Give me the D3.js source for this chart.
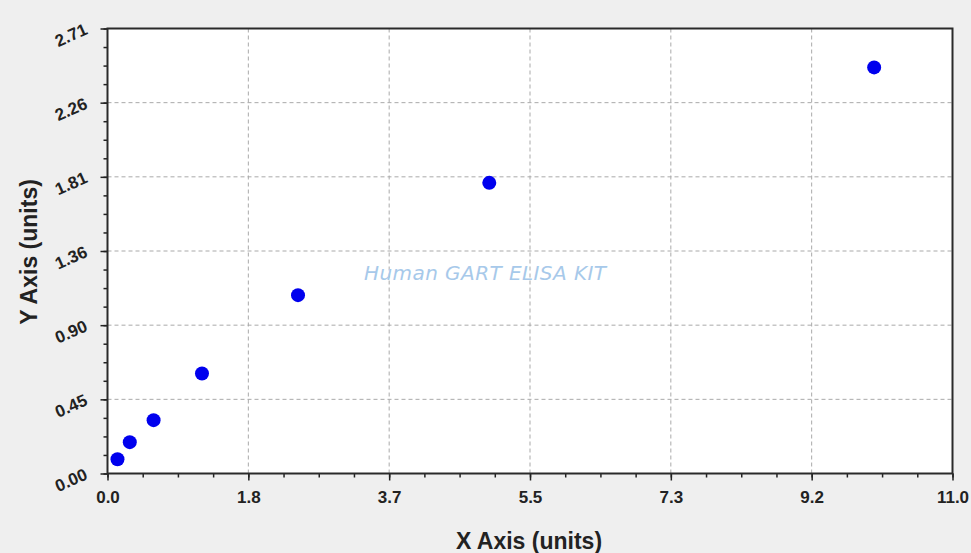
<!DOCTYPE html>
<html>
<head>
<meta charset="utf-8">
<script src="https://cdn.jsdelivr.net/npm/d3@7"></script>
<style>
  body { margin: 0; background: #efefef; }
  svg { display: block; font-family: "Liberation Sans", Arial, sans-serif; }
</style>
</head>
<body>
<svg id="chart" width="971" height="553"></svg>
<script>
// standard curve points
var xValues = [0.13, 0.29, 0.60, 1.23, 2.48, 4.97, 9.98];
var yValues = [0.087, 0.191, 0.325, 0.609, 1.086, 1.770, 2.473];

var xTicks = [0, 11 / 6, 11 / 3, 5.5, 22 / 3, 55 / 6, 11];
var xTickLabels = ['0.0', '1.8', '3.7', '5.5', '7.3', '9.2', '11.0'];
var yTicks = [0, 2.71 / 6, 2.71 / 3, 1.355, 2.71 * 2 / 3, 2.71 * 5 / 6, 2.71];
var yTickLabels = ['0.00', '0.45', '0.90', '1.36', '1.81', '2.26', '2.71'];

var svg = d3.select('#chart');
var plotLeft = 107.5, plotRight = 952.5, plotTop = 28.5, plotBottom = 473.5;

var x = d3.scaleLinear().domain([0, 11]).range([plotLeft, plotRight]);
var y = d3.scaleLinear().domain([0, 2.71]).range([plotBottom, plotTop]);

// plot area
svg.append('rect')
  .attr('x', plotLeft).attr('y', plotTop)
  .attr('width', plotRight - plotLeft).attr('height', plotBottom - plotTop)
  .attr('fill', '#fff');

// grid lines at the major ticks
var grid = svg.append('g').attr('stroke', '#a9a9a9').attr('stroke-dasharray', '4,3');
grid.selectAll('line.gx').data(xTicks.slice(1, -1)).enter().append('line')
  .attr('x1', function(d) { return x(d); }).attr('x2', function(d) { return x(d); })
  .attr('y1', plotTop).attr('y2', plotBottom);
grid.selectAll('line.gy').data(yTicks.slice(1, -1)).enter().append('line')
  .attr('y1', function(d) { return y(d); }).attr('y2', function(d) { return y(d); })
  .attr('x1', plotLeft).attr('x2', plotRight);

// watermark
svg.append('text')
  .attr('x', 485).attr('y', 280)
  .attr('text-anchor', 'middle')
  .attr('font-family', 'DejaVu Sans')
  .attr('font-style', 'italic')
  .attr('font-size', 20)
  .attr('textLength', 242)
  .attr('fill', '#a7c9ea')
  .text('Human GART ELISA KIT');

// minor ticks: 4 subdivisions between majors
var xMinor = d3.range(25).map(function(i) { return 11 * i / 24; });
var yMinor = d3.range(25).map(function(i) { return 2.71 * i / 24; });

var xAxis = d3.axisBottom(x).tickValues(xTicks)
  .tickFormat(function(d, i) { return xTickLabels[i]; })
  .tickSize(7).tickPadding(10);
var xAxisMinor = d3.axisBottom(x).tickValues(xMinor).tickFormat('').tickSize(4);
var yAxis = d3.axisLeft(y).tickValues(yTicks)
  .tickFormat(function(d, i) { return yTickLabels[i]; })
  .tickSize(7).tickPadding(14);
var yAxisMinor = d3.axisLeft(y).tickValues(yMinor).tickFormat('').tickSize(4);

var gx = svg.append('g').attr('transform', 'translate(0,' + plotBottom + ')').call(xAxisMinor);
var gx2 = svg.append('g').attr('transform', 'translate(0,' + plotBottom + ')').call(xAxis);
var gy = svg.append('g').attr('transform', 'translate(' + plotLeft + ',0)').call(yAxisMinor);
var gy2 = svg.append('g').attr('transform', 'translate(' + plotLeft + ',0)').call(yAxis);

[gx, gx2, gy, gy2].forEach(function(g) {
  g.select('.domain').remove();
  g.selectAll('.tick line').attr('stroke', '#222').attr('stroke-width', 1.5);
});

gx2.selectAll('.tick text')
  .style('font-size', '17px').style('font-weight', 'bold').attr('fill', '#222');

gy2.selectAll('.tick text')
  .style('font-size', '17px').style('font-weight', 'bold').attr('fill', '#222')
  .attr('dy', '0.3em')
  .attr('transform', 'rotate(-24,-21,0)');

// frame
svg.append('rect')
  .attr('x', plotLeft).attr('y', plotTop)
  .attr('width', plotRight - plotLeft).attr('height', plotBottom - plotTop)
  .attr('fill', 'none').attr('stroke', '#2a2a2a').attr('stroke-width', 2);

// points
svg.append('g').selectAll('circle')
  .data(xValues.map(function(v, i) { return [v, yValues[i]]; }))
  .enter().append('circle')
  .attr('cx', function(d) { return x(d[0]); })
  .attr('cy', function(d) { return y(d[1]); })
  .attr('r', 7)
  .attr('fill', '#0000ee');

// axis titles
svg.append('text')
  .attr('x', 529).attr('y', 549)
  .attr('text-anchor', 'middle')
  .attr('font-size', 23).attr('font-weight', 'bold').attr('fill', '#222')
  .text('X Axis (units)');

svg.append('text')
  .attr('transform', 'translate(37,252) rotate(-90)')
  .attr('text-anchor', 'middle')
  .attr('font-size', 23).attr('font-weight', 'bold').attr('fill', '#222')
  .text('Y Axis (units)');
</script>
</body>
</html>
